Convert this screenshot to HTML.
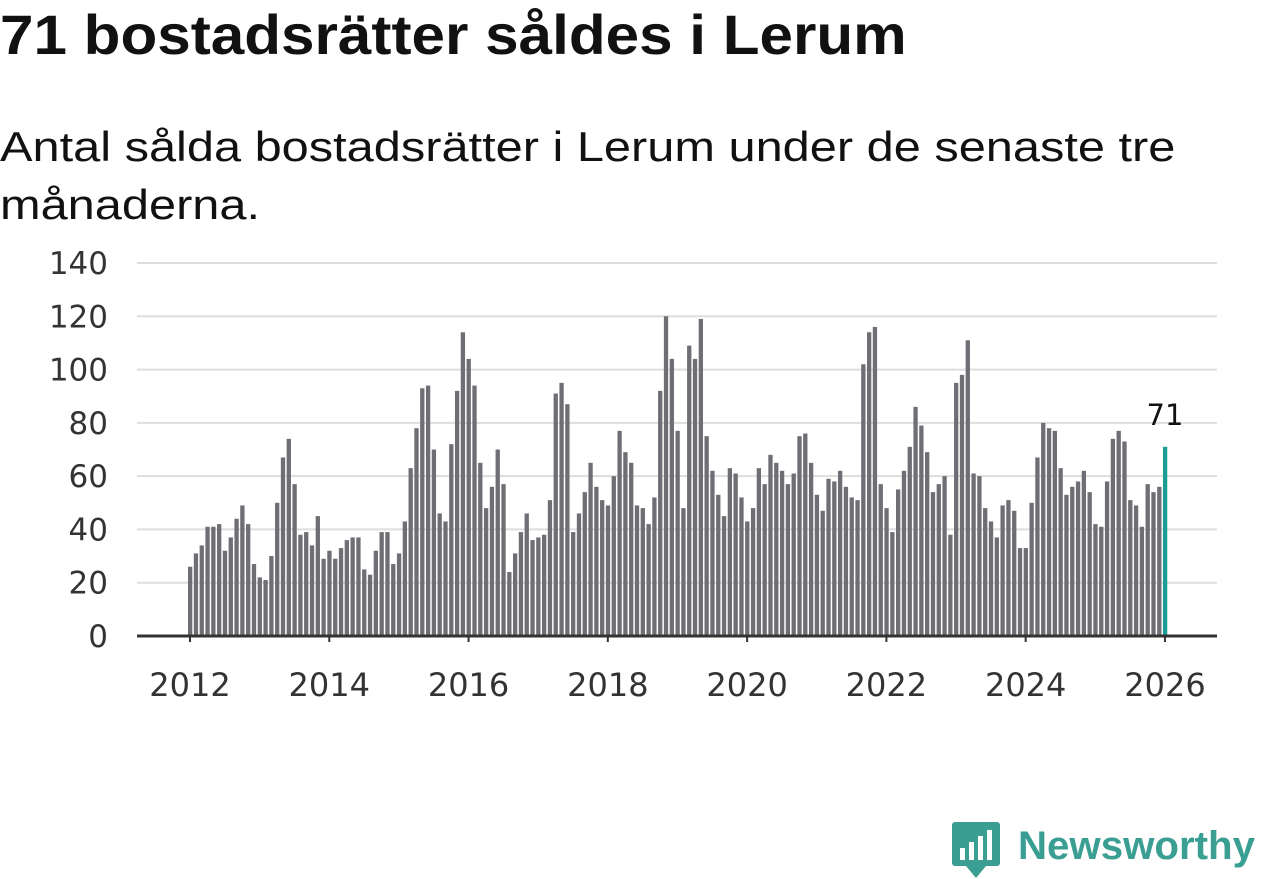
<!DOCTYPE html>
<html><head><meta charset="utf-8"><style>
body{margin:0;background:#fff;width:1262px;height:879px;overflow:hidden;font-family:"Liberation Sans",sans-serif;color:#111}
h1{position:absolute;left:0;top:2px;margin:0;font-size:56px;font-weight:bold;transform:scaleX(1.075);transform-origin:0 0;white-space:nowrap}
.sub{position:absolute;left:0;top:118px;font-size:42px;line-height:58px;color:#111;transform:scaleX(1.16);transform-origin:0 0;white-space:nowrap}
</style></head><body>
<h1>71 bostadsrätter såldes i Lerum</h1>
<div class="sub">Antal sålda bostadsrätter i Lerum under de senaste tre<br>månaderna.</div>
<svg width="1262" height="879" style="position:absolute;left:0;top:0" id="s"></svg>
<script>
const v=[26,31,34,41,41,42,32,37,44,49,42,27,22,21,30,50,67,74,57,38,39,34,45,29,32,29,33,36,37,37,25,23,32,39,39,27,31,43,63,78,93,94,70,46,43,72,92,114,104,94,65,48,56,70,57,24,31,39,46,36,37,38,51,91,95,87,39,46,54,65,56,51,49,60,77,69,65,49,48,42,52,92,120,104,77,48,109,104,119,75,62,53,45,63,61,52,43,48,63,57,68,65,62,57,61,75,76,65,53,47,59,58,62,56,52,51,102,114,116,57,48,39,55,62,71,86,79,69,54,57,60,38,95,98,111,61,60,48,43,37,49,51,47,33,33,50,67,80,78,77,63,53,56,58,62,54,42,41,58,74,77,73,51,49,41,57,54,56,71];
const y0=636,k=(636-263)/140,x0=190,mx=69.64/12;
const F='font-family="DejaVu Sans, sans-serif"';
let h='';
for(let i=0;i<=7;i++){const y=y0-i*20*k;if(i>0)h+=`<line x1="137" x2="1217" y1="${y}" y2="${y}" stroke="#ddd" stroke-width="2"/>`;h+=`<text x="108" y="${y+11}" text-anchor="end" font-size="31" ${F} fill="#333">${i*20}</text>`;}
v.forEach((d,i)=>{const x=x0+i*mx;h+=`<rect x="${x-2}" y="${y0-d*k}" width="4.3" height="${d*k}" fill="${i==v.length-1?'#1a9e93':'#6f6e74'}"/>`;});
h+=`<line x1="137" x2="1217" y1="${y0}" y2="${y0}" stroke="#333" stroke-width="3"/>`;
for(let j=0;j<=7;j++){const x=x0+j*2*69.64;h+=`<line x1="${x}" x2="${x}" y1="${y0}" y2="${y0+6}" stroke="#333" stroke-width="2"/><text x="${x}" y="696" text-anchor="middle" font-size="32" ${F} fill="#333">${2012+j*2}</text>`;}
h+=`<text x="1165" y="425" text-anchor="middle" font-size="29" ${F} fill="#111">71</text>`;
h+=`<g><rect x="952" y="822" width="48" height="44" rx="3" fill="#3a9e93"/><polygon points="966,866 986,866 976,878" fill="#3a9e93"/><rect x="960" y="848" width="5" height="12" fill="#fff"/><rect x="969" y="842" width="5" height="18" fill="#fff"/><rect x="978" y="836" width="5" height="24" fill="#fff"/><rect x="987" y="830" width="5" height="30" fill="#fff"/>
<text x="1018" y="859" font-size="40" font-weight="bold" fill="#3a9e93" textLength="237" lengthAdjust="spacingAndGlyphs">Newsworthy</text></g>`;
document.getElementById('s').innerHTML=h;
</script>
</body></html>
